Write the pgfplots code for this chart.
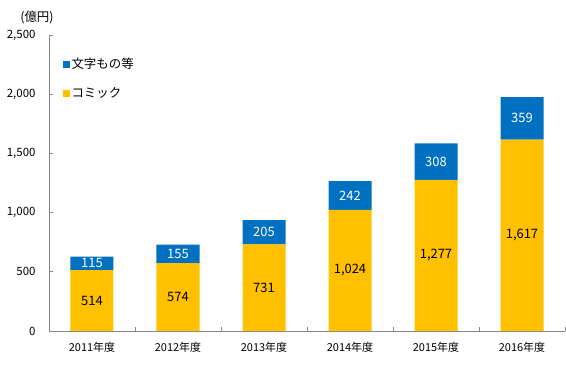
\documentclass[border=0pt]{standalone}
\usepackage{fontspec}
\setmainfont{Noto Sans CJK JP}
\usepackage{pgfplots}
\pgfplotsset{compat=1.18}
\usepackage{pgfplotstable}
\definecolor{cblue}{HTML}{0070C0}
\definecolor{cyel}{HTML}{FFC000}
\definecolor{axgray}{HTML}{868686}
\pgfplotstableread{
x comic text
0 514 115
1 574 155
2 731 205
3 1024 242
4 1277 308
5 1617 359
}\data
\pgfplotsset{
  /pgf/number format/1000 sep={,},
  /pgf/number format/assume math mode=true,
  geom/.style={
    at={(0,0)}, anchor=south west,
    scale only axis, width=516bp, height=296bp,
    xmin=-0.5, xmax=5.5, ymin=0, ymax=2500,
  }
}
\begin{document}
\begin{tikzpicture}
\useasboundingbox (-49bp,-39bp) rectangle (517bp,331bp);
\begin{axis}[
  geom,
  ybar stacked, bar width=43bp,
  clip=false,
  axis x line*=bottom, axis y line*=left,
  axis line style={axgray, line width=0.8pt},
  xtick={0,...,5},
  xticklabels={2011{年度},2012{年度},2013{年度},2014{年度},2015{年度},2016{年度}},
  xticklabel style={font=\fontsize{11}{12}\selectfont, yshift=-8bp},
  major x tick style={draw=none},
  minor xtick={0.5,1.5,2.5,3.5,4.5,5.5},
  minor x tick style={axgray, line width=0.8pt},
  minor tick length=4bp,
  major tick length=4bp,
  ytick={0,500,...,2500},
  y tick style={axgray, line width=0.8pt},
  yticklabel style={font=\fontsize{11.5}{12}\selectfont, xshift=-10bp},
  scaled y ticks=false,
  reverse legend,
  legend style={at={(0.02,0.935)}, anchor=north west, draw=none, fill=none,
    font=\fontsize{12.5}{14}\selectfont, row sep=13bp, cells={anchor=west}},
  legend image code/.code={\draw[#1,draw=none] (0bp,-3.5bp) rectangle (7bp,3.5bp);},
]
\addplot[fill=cyel, draw=none] table[x=x, y=comic]{\data};
\addlegendentry{コミック}
\addplot[fill=cblue, draw=none] table[x=x, y=text]{\data};
\addlegendentry{文字もの等}
\node[font=\fontsize{12.5}{14}\selectfont] at (rel axis cs:0,1) [xshift=-12bp, yshift=17bp] {(億円)};
\end{axis}
\begin{axis}[geom, hide axis, clip=false]
\addplot[draw=none, mark=none, nodes near coords, point meta=explicit,
  every node near coord/.append style={anchor=center, text=black, font=\fontsize{13}{14}\selectfont}]
  table[x=x, y expr=\thisrow{comic}/2, meta=comic]{\data};
\addplot[draw=none, mark=none, nodes near coords, point meta=explicit,
  every node near coord/.append style={anchor=center, text=white, font=\fontsize{13}{14}\selectfont}]
  table[x=x, y expr=\thisrow{comic}+\thisrow{text}/2, meta=text]{\data};
\end{axis}
\end{tikzpicture}
\end{document}
